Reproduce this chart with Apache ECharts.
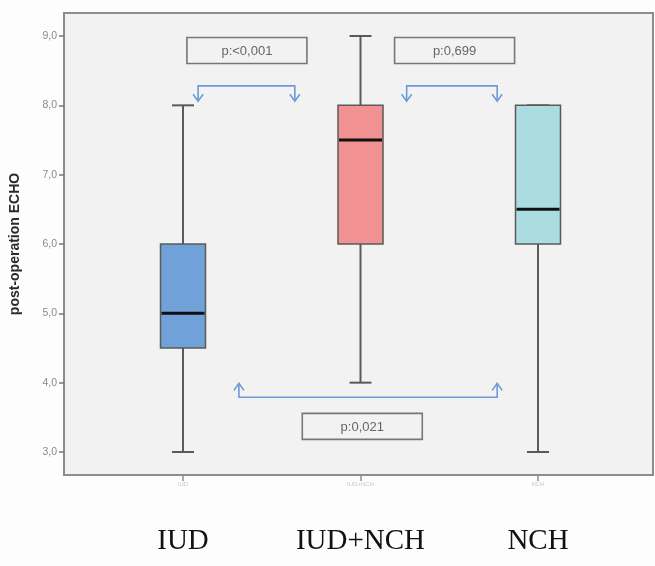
<!DOCTYPE html>
<html>
<head>
<meta charset="utf-8">
<style>html,body{margin:0;padding:0;background:#fdfdfd;}#chart{width:655px;height:566px;}</style>
<script src="https://cdn.jsdelivr.net/npm/echarts@6/dist/echarts.min.js"></script>
</head>
<body>
<div id="chart"></div>
<script>
// ---- data ----
const categories = ['IUD', 'IUD+NCH', 'NCH'];
// [min, Q1, median, Q3, max]
const iudBox = [3.0, 4.5, 5.0, 6.0, 8.0];
const iudNchBox = [4.0, 6.0, 7.5, 8.0, 9.0];
const nchBox = [3.0, 6.0, 6.5, 8.0, 8.0];
const yTicks = [3, 4, 5, 6, 7, 8, 9];
// comparison brackets: [xFrom, xTo, yLine, yTip] in category/value space
const brackets = [
  [0.085, 0.63, 8.28, 8.06],
  [1.26, 1.77, 8.28, 8.06],
  [0.315, 1.77, 3.79, 3.99]
];
// p-value labels: [xCenter, yCenter, text]
const pLabels = [
  [0.36, 8.79, 'p:<0,001'],
  [1.53, 8.79, 'p:0,699'],
  [1.01, 3.37, 'p:0,021']
];

const boxes = [iudBox, iudNchBox, nchBox];
const boxColors = ['#70a1d8', '#f29191', '#abdde0'];
const boxRows = boxes.map((b, i) => [i].concat(b));

const chart = echarts.init(document.getElementById('chart'));

chart.setOption({
  backgroundColor: '#fdfdfd',
  animation: false,
  grid: [
    { left: 64, right: 2, top: 13, bottom: 91, show: true, backgroundColor: '#f2f2f2', borderColor: '#8c8c8c', borderWidth: 2 },
    { left: 64, right: 2, top: 36, bottom: 114 },
    { left: 94.25, width: 532.5, top: 36, bottom: 114 }
  ],
  xAxis: [
    { gridIndex: 0, type: 'value', show: false },
    { gridIndex: 1, type: 'value', show: false },
    {
      gridIndex: 2, type: 'category', data: categories, offset: 23,
      axisLine: { show: false },
      axisTick: { show: true, alignWithLabel: true, length: 6, lineStyle: { color: '#8c8c8c', width: 1.5 } },
      axisLabel: { show: true, fontSize: 6, color: '#c8c8c8', margin: 6 }
    },
    {
      gridIndex: 2, type: 'category', data: categories, position: 'bottom',
      axisLine: { show: false }, axisTick: { show: false },
      axisLabel: { show: true, fontFamily: 'Liberation Serif', fontSize: 29, color: '#111', margin: 75 }
    },
    { gridIndex: 2, type: 'value', min: -0.5, max: 2.5, show: false }
  ],
  yAxis: [
    { gridIndex: 0, type: 'value', show: false },
    {
      gridIndex: 1, type: 'value', min: yTicks[0], max: yTicks[yTicks.length - 1], interval: 1,
      name: 'post-operation ECHO', nameLocation: 'middle', nameRotate: 90, nameGap: 42,
      nameTextStyle: { fontFamily: 'Liberation Sans', fontWeight: 'bold', fontSize: 14, color: '#2a2a2a' },
      axisLine: { show: false },
      axisTick: { show: true, length: 5, lineStyle: { color: '#777', width: 1.5 } },
      axisLabel: { fontFamily: 'Liberation Sans', fontSize: 10.5, color: '#8a8a8a', margin: 7,
        formatter: v => v.toFixed(1).replace('.', ',') },
      splitLine: { show: false }
    },
    { gridIndex: 2, type: 'value', min: yTicks[0], max: yTicks[yTicks.length - 1], show: false }
  ],
  series: [
    {
      type: 'custom', xAxisIndex: 2, yAxisIndex: 2, z: 4,
      data: boxRows,
      encode: { x: 0, y: [1, 2, 3, 4, 5] },
      renderItem: function (params, api) {
        const i = api.value(0);
        const pMin = api.coord([i, api.value(1)]);
        const pQ1 = api.coord([i, api.value(2)]);
        const pMed = api.coord([i, api.value(3)]);
        const pQ3 = api.coord([i, api.value(4)]);
        const pMax = api.coord([i, api.value(5)]);
        const x = pMed[0];
        const bw = 45, cw = 22;
        const wStyle = { stroke: '#5a5a5a', lineWidth: 2 };
        return {
          type: 'group',
          children: [
            { type: 'line', shape: { x1: x, y1: pMax[1], x2: x, y2: pQ3[1] }, style: wStyle },
            { type: 'line', shape: { x1: x, y1: pQ1[1], x2: x, y2: pMin[1] }, style: wStyle },
            { type: 'line', shape: { x1: x - cw / 2, y1: pMax[1], x2: x + cw / 2, y2: pMax[1] }, style: wStyle },
            { type: 'line', shape: { x1: x - cw / 2, y1: pMin[1], x2: x + cw / 2, y2: pMin[1] }, style: wStyle },
            { type: 'rect', shape: { x: x - bw / 2, y: pQ3[1], width: bw, height: pQ1[1] - pQ3[1] },
              style: { fill: boxColors[params.dataIndex], stroke: '#5a5a5a', lineWidth: 1.5 } },
            { type: 'line', shape: { x1: x - bw / 2 + 1, y1: pMed[1], x2: x + bw / 2 - 1, y2: pMed[1] },
              style: { stroke: '#111', lineWidth: 3 } }
          ]
        };
      }
    },
    {
      type: 'custom', xAxisIndex: 4, yAxisIndex: 2, z: 6, clip: false,
      data: brackets,
      renderItem: function (params, api) {
        const p1 = api.coord([api.value(0), api.value(2)]);
        const p2 = api.coord([api.value(1), api.value(2)]);
        const t1 = api.coord([api.value(0), api.value(3)]);
        const t2 = api.coord([api.value(1), api.value(3)]);
        const dir = t1[1] < p1[1] ? -1 : 1;
        const style = { stroke: '#6e9ad6', lineWidth: 1.6, fill: 'none' };
        const chev = (t) => ({
          type: 'polyline',
          shape: { points: [[t[0] - 5, t[1] - dir * 7], [t[0], t[1]], [t[0] + 5, t[1] - dir * 7]] },
          style: style
        });
        return {
          type: 'group',
          children: [
            { type: 'polyline', shape: { points: [t1, p1, p2, t2] }, style: style },
            chev(t1), chev(t2)
          ]
        };
      }
    },
    {
      type: 'custom', xAxisIndex: 4, yAxisIndex: 2, z: 6, clip: false,
      data: pLabels,
      renderItem: function (params, api) {
        const c = api.coord([api.value(0), api.value(1)]);
        const w = 120, h = 26;
        return {
          type: 'group',
          children: [
            { type: 'rect', shape: { x: c[0] - w / 2, y: c[1] - h / 2, width: w, height: h },
              style: { fill: 'none', stroke: '#777', lineWidth: 1.6 } },
            { type: 'text', x: c[0], y: c[1] + 1,
              style: { text: pLabels[params.dataIndex][2], fontFamily: 'Liberation Sans', fontSize: 13,
                fill: '#666', align: 'center', verticalAlign: 'middle' } }
          ]
        };
      }
    }
  ]
});
</script>
</body>
</html>
